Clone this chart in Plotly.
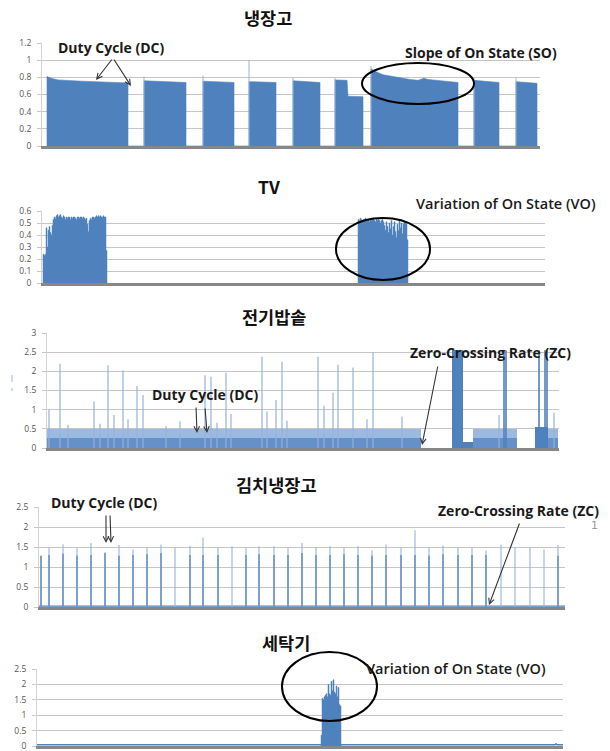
import plotly.graph_objects as go

W, H = 610, 751
BLUE = "#4f81bd"
LIGHT = "#95b3dc"

# ---------------- 냉장고 (refrigerator) ----------------
fridge_t = [5, 5, 9, 16, 40, 70, 86, 86,
            102, 102, 120, 144, 144,
            161, 161, 175, 192, 192,
            207, 207, 220, 234, 234,
            251, 251, 265, 278, 278,
            293, 293, 305, 306, 321, 321,
            329, 329, 333, 341, 350, 358, 368, 376, 380, 382, 386, 398, 416, 416,
            432, 432, 445, 457, 457,
            474, 474, 485, 495, 495]
fridge_kw = [0, 0.81, 0.79, 0.77, 0.755, 0.745, 0.735, 0,
             0, 0.76, 0.75, 0.74, 0,
             0, 0.755, 0.745, 0.74, 0,
             0, 0.75, 0.745, 0.74, 0,
             0, 0.76, 0.75, 0.74, 0,
             0, 0.77, 0.765, 0.58, 0.575, 0,
             0, 0.90, 0.87, 0.83, 0.81, 0.79, 0.775, 0.765, 0.78, 0.79, 0.775, 0.76, 0.74, 0,
             0, 0.765, 0.75, 0.74, 0,
             0, 0.75, 0.74, 0.73, 0]
fridge_spike_t = [102, 161, 207, 251, 293, 329, 432, 474]
fridge_spike_kw = [0.81, 0.82, 1.0, 0.80, 0.79, 0.93, 0.79, 0.79]

# ---------------- TV ----------------
tv_on1_start = 1
tv_on1_kw = [0.24, 0.23, 0.24, 0.46, 0.30, 0.44, 0.47, 0.42, 0.40, 0.48,
             0.53, 0.55, 0.54, 0.56, 0.57, 0.55, 0.56, 0.57, 0.55, 0.54,
             0.56, 0.55, 0.53, 0.55, 0.54, 0.55, 0.55, 0.53, 0.55, 0.54,
             0.55, 0.55, 0.54, 0.53, 0.55, 0.55, 0.54, 0.55, 0.55, 0.54,
             0.55, 0.54, 0.53, 0.54, 0.49, 0.43, 0.52, 0.54, 0.53, 0.55,
             0.55, 0.54, 0.55, 0.56, 0.55, 0.56, 0.55, 0.56, 0.55, 0.55,
             0.56, 0.55, 0.55, 0.27]
tv_on2_start = 316
tv_on2_kw = [0.53, 0.52, 0.54, 0.53, 0.51, 0.53, 0.52, 0.54, 0.53, 0.52,
             0.53, 0.51, 0.53, 0.52, 0.53, 0.54, 0.52, 0.51, 0.53, 0.52,
             0.53, 0.52, 0.50, 0.52, 0.53, 0.51, 0.48, 0.44, 0.51, 0.47,
             0.42, 0.50, 0.45, 0.52, 0.40, 0.47, 0.51, 0.43, 0.38, 0.49,
             0.44, 0.52, 0.46, 0.50, 0.41, 0.49, 0.51, 0.50, 0.49, 0.36]

# ---------------- 전기밥솥 (rice cooker) ----------------
rice_keep_start = [0, 426, 501]
rice_keep_end = [374, 470, 511]
rice_keep_kw = [0.5, 0.5, 0.5]
rice_keep_low_kw = [0.27, 0.27, 0.27]
rice_burst_start = [405, 416, 488]
rice_burst_end = [416, 426, 501]
rice_burst_kw = [2.55, 0.15, 0.55]
rice_spike_t = [2, 13, 21, 47, 53, 61, 67, 76, 81, 90, 96, 119, 133, 158, 164,
                170, 179, 184, 215, 220, 229, 235, 240, 271, 277, 286, 291, 306,
                320, 326, 355, 452, 507]
rice_spike_kw = [1.0, 2.2, 0.6, 1.21, 0.63, 2.15, 0.86, 2.03, 0.75, 1.62, 1.38,
                 0.57, 0.7, 1.9, 1.86, 0.66, 1.97, 0.89, 2.38, 0.95, 1.25, 2.25,
                 0.71, 2.38, 1.1, 1.44, 2.17, 2.1, 0.75, 2.49, 0.82, 0.86, 0.92]
rice_burst_spike_t = [457, 459, 492, 498, 500]
rice_burst_spike_kw = [2.55, 2.55, 2.55, 2.55, 2.55]

# ---------------- 김치냉장고 (kimchi refrigerator) ----------------
kimchi_t = [2, 10, 24, 38, 52, 66, 80, 94, 108, 122, 136, 151, 164, 179, 193,
            207, 220, 235, 249, 263, 277, 291, 305, 319, 333, 347, 362, 376,
            390, 404, 419, 433, 447, 462, 476, 491, 505, 519]
kimchi_peak_kw = [1.28, 1.49, 1.57, 1.47, 1.6, 1.37, 1.55, 1.44, 1.49, 1.56,
                  1.49, 1.53, 1.74, 1.49, 1.52, 1.47, 1.52, 1.52, 1.49, 1.6,
                  1.49, 1.52, 1.49, 1.52, 1.42, 1.56, 1.49, 1.92, 1.49, 1.54,
                  1.49, 1.49, 1.41, 1.56, 1.49, 1.49, 1.44, 1.55]
kimchi_core_kw = [1.28, 1.30, 1.33, 1.28, 1.30, 1.35, 1.28, 1.30, 1.32, 1.35,
                  0, 1.30, 1.30, 1.30, 0, 1.30, 1.32, 1.30, 1.30, 1.35,
                  1.30, 1.30, 1.32, 1.30, 1.28, 1.30, 1.30, 1.30, 1.28, 1.32,
                  1.30, 1.30, 1.30, 0, 0, 0, 0, 1.28]
kimchi_idle_kw = 0.02

# ---------------- 세탁기 (washing machine) ----------------
washer_start = 284
washer_kw = [0.35, 1.55, 1.5, 1.6, 1.65, 1.7, 1.6, 2.0, 1.7, 1.65,
             2.1, 1.8, 2.15, 1.75, 1.7, 1.95, 1.6, 1.9, 1.35, 1.3]
washer_idle_kw = 0.04
washer_blip_t = 518
washer_blip_kw = 0.07


def px(x):
    return x / W


def py(y):
    return 1 - y / H


# panel frames in screen pixels: (left, right, y of zero, y of top), y range, dtick, time span
panels = [
    (42, 540, 146, 43, 1.2, 0.2, 498),
    (42, 545, 283, 211, 0.6, 0.1, 503),
    (47, 559, 448, 333, 3.0, 0.5, 512),
    (39, 565, 607, 507, 2.5, 0.5, 526),
    (37, 563, 746, 669, 2.5, 0.5, 526),
]

fig = go.Figure()


def ax_ids(i):
    s = "" if i == 0 else str(i + 1)
    return "x" + s, "y" + s


def spikes(ts, vs):
    xs, ys = [], []
    for t, v in zip(ts, vs):
        if v <= 0:
            continue
        xs += [t, t, None]
        ys += [0, v, None]
    return xs, ys


def steps(start, vals):
    xs = [start]
    ys = [0]
    for i, v in enumerate(vals):
        xs += [start + i, start + i + 1]
        ys += [v, v]
    xs.append(start + len(vals))
    ys.append(0)
    return xs, ys


# refrigerator
xa, ya = ax_ids(0)
fig.add_trace(go.Scatter(x=fridge_t, y=fridge_kw, mode="lines", fill="tozeroy",
                         line=dict(color=BLUE, width=0.6), fillcolor=BLUE,
                         xaxis=xa, yaxis=ya))
sx, sy = spikes(fridge_spike_t, fridge_spike_kw)
fig.add_trace(go.Scatter(x=sx, y=sy, mode="lines", line=dict(color=LIGHT, width=1),
                         xaxis=xa, yaxis=ya))

# TV
xa, ya = ax_ids(1)
for st, vals in ((tv_on1_start, tv_on1_kw), (tv_on2_start, tv_on2_kw)):
    sx, sy = steps(st, vals)
    fig.add_trace(go.Scatter(x=sx, y=sy, mode="lines", fill="tozeroy",
                             line=dict(color=BLUE, width=0.5), fillcolor=BLUE,
                             xaxis=xa, yaxis=ya))

# rice cooker
xa, ya = ax_ids(2)
sx, sy = spikes(rice_spike_t, rice_spike_kw)
fig.add_trace(go.Scatter(x=sx, y=sy, mode="lines", line=dict(color=LIGHT, width=1.2),
                         xaxis=xa, yaxis=ya))
keep_mid = [(a + b) / 2 for a, b in zip(rice_keep_start, rice_keep_end)]
keep_w = [b - a for a, b in zip(rice_keep_start, rice_keep_end)]
fig.add_trace(go.Bar(x=keep_mid, width=keep_w, y=rice_keep_kw,
                     marker=dict(color="#9cb9e0", line=dict(width=0)),
                     xaxis=xa, yaxis=ya))
fig.add_trace(go.Bar(x=keep_mid, width=keep_w, y=rice_keep_low_kw,
                     marker=dict(color="#6690c9", line=dict(width=0)),
                     xaxis=xa, yaxis=ya))
fig.add_trace(go.Bar(x=[(a + b) / 2 for a, b in zip(rice_burst_start, rice_burst_end)],
                     width=[b - a for a, b in zip(rice_burst_start, rice_burst_end)],
                     y=rice_burst_kw,
                     marker=dict(color=BLUE, line=dict(width=0)),
                     xaxis=xa, yaxis=ya))
sx, sy = spikes(rice_burst_spike_t, rice_burst_spike_kw)
fig.add_trace(go.Scatter(x=sx, y=sy, mode="lines", line=dict(color=BLUE, width=1.6),
                         xaxis=xa, yaxis=ya))

# kimchi refrigerator
xa, ya = ax_ids(3)
fig.add_trace(go.Scatter(x=[0, panels[3][6]], y=[kimchi_idle_kw, kimchi_idle_kw], mode="lines",
                         line=dict(color=BLUE, width=1.2), xaxis=xa, yaxis=ya))
sx, sy = spikes(kimchi_t, kimchi_peak_kw)
fig.add_trace(go.Scatter(x=sx, y=sy, mode="lines", line=dict(color=LIGHT, width=1.1),
                         xaxis=xa, yaxis=ya))
sx, sy = spikes(kimchi_t, kimchi_core_kw)
fig.add_trace(go.Scatter(x=sx, y=sy, mode="lines", line=dict(color="#5c8bc6", width=1.4),
                         xaxis=xa, yaxis=ya))

# washing machine
xa, ya = ax_ids(4)
fig.add_trace(go.Scatter(x=[0, washer_blip_t, washer_blip_t + 1, washer_blip_t + 2, panels[4][6]],
                         y=[washer_idle_kw, washer_idle_kw, washer_blip_kw, washer_idle_kw, washer_idle_kw],
                         mode="lines", line=dict(color=BLUE, width=1.5), xaxis=xa, yaxis=ya))
sx, sy = steps(washer_start, washer_kw)
fig.add_trace(go.Scatter(x=sx, y=sy, mode="lines", fill="tozeroy",
                         line=dict(color=BLUE, width=0.5), fillcolor=BLUE,
                         xaxis=xa, yaxis=ya))

layout = dict(
    width=W, height=H, margin=dict(l=0, r=0, t=0, b=0),
    paper_bgcolor="white", plot_bgcolor="white",
    showlegend=False, barmode="overlay", bargap=0,
    template="none",
)
for i, (l, r, y0, y1, ymax, dt, span) in enumerate(panels):
    s = "" if i == 0 else str(i + 1)
    layout["xaxis" + s] = dict(
        domain=[px(l), px(r)], range=[0, span], anchor="y" + s,
        showticklabels=False, showgrid=False, zeroline=False, ticks="",
        showline=True, linecolor="#878787", linewidth=3, fixedrange=True)
    layout["yaxis" + s] = dict(
        domain=[py(y0), py(y1)], range=[0, ymax], dtick=dt, tick0=0, anchor="x" + s,
        showgrid=True, gridcolor="#c6c6c6", gridwidth=1.3, zeroline=False,
        showline=True, linecolor="#d4d4d4", linewidth=1,
        ticks="outside", ticklen=4, tickcolor="#c8c8c8", ticklabelstandoff=4,
        tickfont=dict(family="Open Sans", size=8.5, color="#555555"), fixedrange=True)
fig.update_layout(**layout)

TITLE_FONT = dict(family="Noto Sans CJK KR", size=17.5, color="#111111", weight="bold")
NOTE_FONT = dict(family="Open Sans", size=14, color="#1a1a1a", weight="bold")
NOTE_FONT_VO = dict(family="Open Sans", size=14.5, color="#1a1a1a", weight=600)

annotations = []
for text, cx, cy in [("냉장고", 268, 17), ("TV", 269, 187), ("전기밥솥", 274, 316),
                     ("김치냉장고", 276, 484), ("세탁기", 286, 642)]:
    annotations.append(dict(text=text, x=px(cx), y=py(cy), xref="paper", yref="paper",
                            showarrow=False, xanchor="center", yanchor="middle", font=TITLE_FONT))

for text, cx, cy, f in [("Duty Cycle (DC)", 111, 47, NOTE_FONT),
                        ("Slope of On State (SO)", 481, 52, NOTE_FONT),
                        ("Variation of On State (VO)", 506, 203, NOTE_FONT_VO),
                        ("Duty Cycle (DC)", 205, 394, NOTE_FONT),
                        ("Zero-Crossing Rate (ZC)", 490, 353, NOTE_FONT),
                        ("Duty Cycle (DC)", 104, 502, NOTE_FONT),
                        ("Zero-Crossing Rate (ZC)", 518, 510, NOTE_FONT),
                        ("Variation of On State (VO)", 456, 668, NOTE_FONT_VO)]:
    annotations.append(dict(text=text, x=px(cx), y=py(cy), xref="paper", yref="paper",
                            showarrow=False, xanchor="center", yanchor="middle", font=f))

annotations.append(dict(text="1", x=px(600), y=py(534), xref="paper", yref="paper",
                        showarrow=False, font=dict(family="DejaVu Sans", size=11, color="#9a9a9a")))

# pointer arrows: (tail x, tail y, head x, head y) in screen pixels
for tx, ty, hx, hy in [(113, 58, 96, 80), (113, 58, 131, 86),
                       (196, 406, 197, 433), (205, 407, 207, 433),
                       (438, 365, 422, 445),
                       (106, 514, 106, 543), (110, 514, 111, 543),
                       (520, 522, 489, 605)]:
    annotations.append(dict(text="", x=px(hx), y=py(hy), xref="paper", yref="paper",
                            ax=tx - hx, ay=ty - hy, axref="pixel", ayref="pixel",
                            showarrow=True, arrowhead=5, arrowsize=1, arrowwidth=1.1,
                            arrowcolor="#333333"))
fig.update_layout(annotations=annotations)

shapes = []
for x0, y0, x1, y1 in [(362, 63, 474, 104), (336, 218, 430, 280), (282, 652, 377, 721)]:
    shapes.append(dict(type="circle", xref="paper", yref="paper",
                       x0=px(x0), x1=px(x1), y0=py(y1), y1=py(y0),
                       line=dict(color="black", width=2)))
for y0, y1 in [(375, 382), (388, 391)]:
    shapes.append(dict(type="line", xref="paper", yref="paper",
                       x0=px(12), x1=px(12), y0=py(y1), y1=py(y0),
                       line=dict(color="#b9d3ee", width=1.5)))
fig.update_layout(shapes=shapes)

fig.write_html("out.html")
